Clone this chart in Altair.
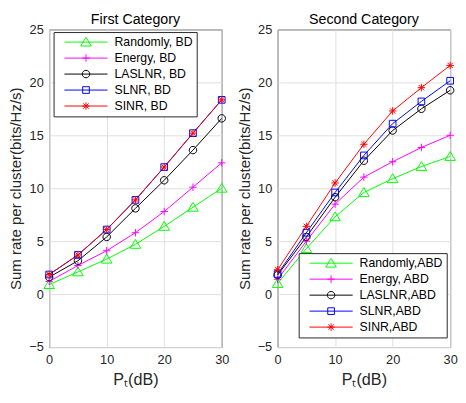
import altair as alt
import pandas as pd

# ---------------- data ----------------
x_db = [0, 5, 10, 15, 20, 25, 30]

series_bd = ["Randomly, BD", "Energy, BD", "LASLNR, BD", "SLNR, BD", "SINR, BD"]
random_bd = [0.9, 2.1, 3.3, 4.7, 6.4, 8.2, 10.0]
energy_bd = [1.2, 2.7, 4.1, 5.8, 7.8, 10.1, 12.4]
laslnr_bd = [1.6, 3.15, 5.4, 8.1, 10.75, 13.6, 16.6]
slnr_bd = [1.85, 3.7, 6.1, 8.9, 12.0, 15.2, 18.35]
sinr_bd = [1.85, 3.7, 6.1, 8.9, 12.0, 15.2, 18.35]

series_abd = ["Randomly,ABD", "Energy, ABD", "LASLNR,ABD", "SLNR,ABD", "SINR,ABD"]
random_abd = [1.0, 4.3, 7.3, 9.6, 10.9, 12.05, 13.0]
energy_abd = [1.4, 5.0, 8.5, 11.05, 12.5, 13.85, 15.0]
laslnr_abd = [1.8, 5.4, 9.15, 12.6, 15.45, 17.5, 19.25]
slnr_abd = [1.9, 5.8, 9.6, 13.1, 16.1, 18.2, 20.15]
sinr_abd = [2.3, 6.4, 10.5, 14.15, 17.3, 19.5, 21.6]

x_ticks = [0, 10, 20, 30]
y_ticks = [-5, 0, 5, 10, 15, 20, 25]

colors = ["#00ff00", "#ff00ff", "#000000", "#0000ff", "#ff0000"]

# marker glyphs (unit coordinates): triangle, plus, circle, square, asterisk
marker_paths = [
    "M0,-1.25L1.35,1L-1.35,1Z",
    "M-0.95,0L0.95,0M0,-0.95L0,0.95",
    "M0.95,0A0.95,0.95,0,1,1,-0.95,0A0.95,0.95,0,1,1,0.95,0Z",
    "M-0.85,-0.85L0.85,-0.85L0.85,0.85L-0.85,0.85Z",
    "M-0.95,0L0.95,0M0,-0.95L0,0.95M-0.68,-0.68L0.68,0.68M-0.68,0.68L0.68,-0.68",
]
legend_line = "M-5.5,0L5.5,0"
legend_paths = [legend_line + p for p in marker_paths]

FONT = "Liberation Sans"
TXT = "#262626"


def panel(series, values, title, lx, ly):
    rows = []
    for name, vals in zip(series, values):
        for xv, v in zip(x_db, vals):
            rows.append({"P": xv, "rate": v, "series": name})
    df = pd.DataFrame(rows)

    xenc = alt.X(
        "P:Q",
        scale=alt.Scale(domain=[0, 30], nice=False),
        axis=alt.Axis(values=x_ticks, title="Pₜ(dB)", labelFlush=False,
                      labelPadding=7, titlePadding=5, titleFontSize=16.5),
    )
    yenc = alt.Y(
        "rate:Q",
        scale=alt.Scale(domain=[-5, 25], nice=False),
        axis=alt.Axis(values=y_ticks, title="Sum rate per cluster(bits/Hz/s)",
                      labelPadding=6, titlePadding=5, titleFontSize=15.3),
    )
    cscale = alt.Scale(domain=series, range=colors)

    legend = alt.Legend(
        title=None, orient="none", legendX=lx, legendY=ly,
        labelFont=FONT, labelFontSize=12.5, labelColor="#000000",
        symbolSize=64, symbolStrokeWidth=1, symbolOffset=22.8, labelOffset=22.8,
        symbolOpacity=1,
        padding=4, rowPadding=3.3, strokeColor=TXT, fillColor="white",
    )

    lines = alt.Chart(df).mark_line(strokeWidth=1).encode(
        x=xenc, y=yenc,
        color=alt.Color("series:N", scale=cscale, legend=None),
    )
    pts = alt.Chart(df).mark_point(filled=False, size=64, strokeWidth=1, opacity=1).encode(
        x=xenc, y=yenc,
        color=alt.Color("series:N", scale=cscale, legend=None),
        shape=alt.Shape("series:N", scale=alt.Scale(domain=series, range=marker_paths), legend=None),
    )
    # invisible layer that only supplies the legend (line + marker symbols)
    leg = alt.Chart(df).mark_point(filled=False, size=64, strokeWidth=1, opacity=0, clip=True).encode(
        x=xenc, y=yenc,
        color=alt.Color("series:N", scale=cscale, legend=legend, sort=series),
        shape=alt.Shape("series:N", scale=alt.Scale(domain=series, range=legend_paths),
                        legend=legend, sort=series),
    )
    return alt.layer(lines, pts, leg).resolve_scale(
        color="independent", shape="independent"
    ).properties(
        width=176, height=324,
        title=alt.Title(title, fontSize=14.5, fontWeight="normal", color="#000000", offset=-4, font=FONT),
    )


left = panel(series_bd, [random_bd, energy_bd, laslnr_bd, slnr_bd, sinr_bd],
             "First Category", 4.5, 2.7)
right = panel(series_abd, [random_abd, energy_abd, laslnr_abd, slnr_abd, sinr_abd],
              "Second Category", 21.5, 228.2)

chart = (
    alt.hconcat(left, right, spacing=7)
    .resolve_scale(color="independent", shape="independent")
    .properties(padding={"left": 0, "top": 0, "right": 0, "bottom": 0})
    .configure(font=FONT)
    .configure_view(stroke=TXT, strokeWidth=1)
    .configure_axis(
        grid=True, gridColor="#dfdfdf", gridWidth=1, domain=False, ticks=False,
        labelFont=FONT, labelFontSize=13, labelColor=TXT,
        titleFont=FONT, titleFontWeight="normal", titleColor=TXT,
    )
)

chart.save("out.html", embed_options={"renderer": "svg", "actions": False})
